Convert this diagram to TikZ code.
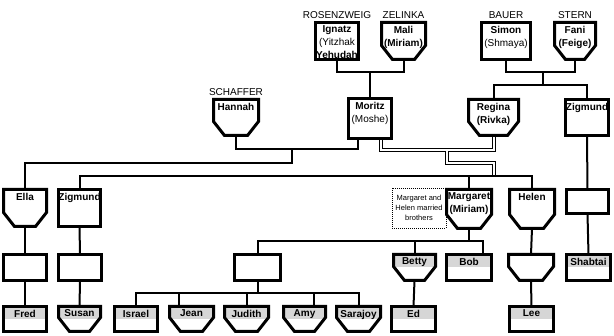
\documentclass[tikz,border=0pt]{standalone}
\usepackage{fontspec}
\setmainfont{Liberation Sans}
\usetikzlibrary{backgrounds}
\definecolor{bandgray}{RGB}{214,214,214}
\tikzset{
  boxline/.style={line width=3pt, line join=miter, draw=black},
  conn/.style={line width=2pt, draw=black},
  dbl/.style={double=white, draw=black, line width=1pt, double distance=2pt},
  sz/.style 2 args={minimum width=#1pt, minimum height=#2pt},
  person/.style={rectangle, inner sep=0pt, outer sep=0pt, draw=none},
  male/.style={person, append after command={\pgfextra{\draw[boxline] (\tikzlastnode.north west) rectangle (\tikzlastnode.south east);}}},
  female/.style={person, append after command={\pgfextra{\draw[boxline] (\tikzlastnode.north west) -- ([yshift=14pt]\tikzlastnode.south west) -- ([xshift=11pt]\tikzlastnode.south west) -- ([xshift=-11pt]\tikzlastnode.south east) -- ([yshift=14pt]\tikzlastnode.south east) -- (\tikzlastnode.north east) -- cycle;}}},
  band/.style={append after command={\pgfextra{\fill[bandgray] (\tikzlastnode.north west) rectangle ([yshift=-12.5pt]\tikzlastnode.north east);}}},
  nametext/.style={anchor=north, inner sep=0pt, yshift=-3.3pt, align=center, font=\fontsize{10}{13}\selectfont},
  surname/.style={anchor=south, inner sep=0pt, yshift=4pt, font=\fontsize{10}{12}\selectfont},
  notebox/.style={draw, line width=0.8pt, dash pattern=on 1pt off 1pt, minimum width=54pt, minimum height=40pt, inner sep=0pt, align=center, font=\fontsize{7.5}{10}\selectfont},
}
\begin{document}
\begin{tikzpicture}[x=1pt, y=-1pt]
\useasboundingbox (0,0) rectangle (614,336);
% row 1
\node[male, sz={43}{37}, label={[surname]north:ROSENZWEIG}, label={[nametext]north:{\textbf{Ignatz}\\(Yitzhak\\\textbf{Yehudah}}}] (ign) at (337,41) {};
\node[female, sz={44}{37}, label={[surname]north:ZELINKA}, label={[nametext]north:{\textbf{Mali}\\\textbf{(Miriam)}}}] (mali) at (403.5,41) {};
\node[male, sz={49}{37}, label={[surname]north:BAUER}, label={[nametext]north:{\textbf{Simon}\\(Shmaya)}}] (simon) at (506,41) {};
\node[female, sz={41}{37}, label={[surname]north:STERN}, label={[nametext]north:{\textbf{Fani}\\\textbf{(Feige)}}}] (fani) at (575,41) {};
% row 2
\node[female, sz={45}{36}, label={[surname]north:SCHAFFER}, label={[nametext]north:{\textbf{Hannah}}}] (hannah) at (236,117.5) {};
\node[male, sz={43}{40}, label={[nametext]north:{\textbf{Moritz}\\(Moshe)}}] (moritz) at (370,118.5) {};
\node[female, sz={50}{36}, label={[nametext]north:{\textbf{Regina}\\\textbf{(Rivka)}}}] (regina) at (493.5,117.5) {};
\node[male, sz={43}{36}, label={[nametext]north:{\textbf{Zigmund}}}] (zigR) at (587,117.5) {};
% row 3
\node[female, sz={43}{37}, label={[nametext]north:{\textbf{Ella}}}] (ella) at (25,208) {};
\node[male, sz={42}{37}, label={[nametext]north:{\textbf{Zigmund}}}] (zigL) at (79.5,208) {};
\node[female, sz={45}{39}, label={[nametext]north:{\textbf{Margaret}\\\textbf{(Miriam)}}}] (marg) at (469,209) {};
\node[female, sz={45}{39}, label={[nametext]north:{\textbf{Helen}}}] (helen) at (532,209) {};
\node[male, sz={42}{24}] (emptyR) at (587.5,201.5) {};
\node[notebox] (note) at (419,208) {Margaret and\\Helen married\\brothers};
% row 4
\node[male, sz={43}{26}] (ellaC) at (25,267.5) {};
\node[male, sz={43}{26}] (zigC) at (80,267.5) {};
\node[male, sz={46}{26}] (mid) at (257.5,267.5) {};
\node[band, female, sz={42}{26}, label={[nametext]north:{\textbf{Betty}}}] (betty) at (414.5,267.5) {};
\node[band, male, sz={45}{26}, label={[nametext]north:{\textbf{Bob}}}] (bob) at (469,267.5) {};
\node[female, sz={45}{26}] (helenC) at (531,267.5) {};
\node[band, male, sz={44}{26}, label={[nametext]north:{\textbf{Shabtai}}}] (shabtai) at (588.5,267.5) {};
% row 5
\node[band, male, sz={43}{25}, label={[nametext]north:{\textbf{Fred}}}] (fred) at (25,319) {};
\node[band, female, sz={42}{25}, label={[nametext]north:{\textbf{Susan}}}] (susan) at (79.5,319) {};
\node[band, male, sz={43}{25}, label={[nametext]north:{\textbf{Israel}}}] (israel) at (136,319) {};
\node[band, female, sz={44}{25}, label={[nametext]north:{\textbf{Jean}}}] (jean) at (191.5,319) {};
\node[band, female, sz={44}{25}, label={[nametext]north:{\textbf{Judith}}}] (judith) at (246.5,319) {};
\node[band, female, sz={42}{25}, label={[nametext]north:{\textbf{Amy}}}] (amy) at (304.5,319) {};
\node[band, female, sz={44}{25}, label={[nametext]north:{\textbf{Sarajoy}}}] (sarajoy) at (358.5,319) {};
\node[band, male, sz={44}{25}, label={[nametext]north:{\textbf{Ed}}}] (ed) at (413.5,319) {};
\node[band, male, sz={44}{25}, label={[nametext]north:{\textbf{Lee}}}] (lee) at (531.5,319) {};
% helper coordinates
\coordinate (yA) at (0,72);
\coordinate (yE) at (0,176);
\coordinate (yF) at (0,241);
\coordinate (yG) at (0,293);
\coordinate (m1) at (moritz.north |- yA);
\coordinate (m2) at (543,72);
\coordinate (m3) at (543,85);
\coordinate (m4) at (292,149);
\coordinate (m5) at (292,163);
\coordinate (d1) at (447,150);
\coordinate (d2) at (447,163);
\coordinate (d4) at (493.5,176);
\coordinate (e1) at (marg.north |- yE);
\coordinate (f1) at (marg.south |- yF);
\coordinate (g1) at (mid.south |- yG);
\coordinate (mL) at ([xshift=-12pt]moritz.south);
\coordinate (mR) at ([xshift=11pt]moritz.south);
\coordinate (bobtop) at ([xshift=14pt]bob.north);
\coordinate (jtop) at ([xshift=-12.5pt]jean.north);
\coordinate (atop) at ([xshift=9.5pt]amy.north);
\begin{pgfonlayer}{background}
\fill[white] (0,0) rectangle (614,336);
\draw[conn] (ign.south) |- (m1) -| (mali.south);
\draw[conn] (m1) -- (moritz.north);
\draw[conn] (simon.south) |- (m2) -| (fani.south);
\draw[conn] (m2) -- (m3);
\draw[conn] (regina.north) |- (m3) -| (zigR.north);
\draw[conn] (hannah.south) |- (m4) -| (mL);
\draw[conn] (m4) -- (m5) -| (ella.north);
\draw[dbl] (mR) |- (d1) -| (regina.south) (d1) -- (d2) -| (d4);
\draw[conn] (zigL.north) |- (e1) -| (helen.north);
\draw[conn] (e1) -- (marg.north);
\draw[conn] (zigR.south) -- (emptyR.north);
\draw[conn] (emptyR.south) -- (shabtai.north);
\draw[conn] (ella.south) -- (ellaC.north);
\draw[conn] (ellaC.south) -- (fred.north);
\draw[conn] (zigL.south) -- (zigC.north);
\draw[conn] (zigC.south) -- (susan.north);
\draw[conn] (mid.north) |- (f1) -| (bobtop);
\draw[conn] (f1) -- (marg.south);
\draw[conn] (betty.north) -- (betty.north |- f1);
\draw[conn] (betty.south) -- (ed.north);
\draw[conn] (helen.south) -- (helenC.north);
\draw[conn] (helenC.south) -- (lee.north);
\draw[conn] (israel.north) |- (g1) -| (sarajoy.north);
\draw[conn] (g1) -- (mid.south);
\draw[conn] (jtop) -- (jtop |- g1);
\draw[conn] (judith.north) -- (judith.north |- g1);
\draw[conn] (atop) -- (atop |- g1);
\end{pgfonlayer}
\end{tikzpicture}
\end{document}
